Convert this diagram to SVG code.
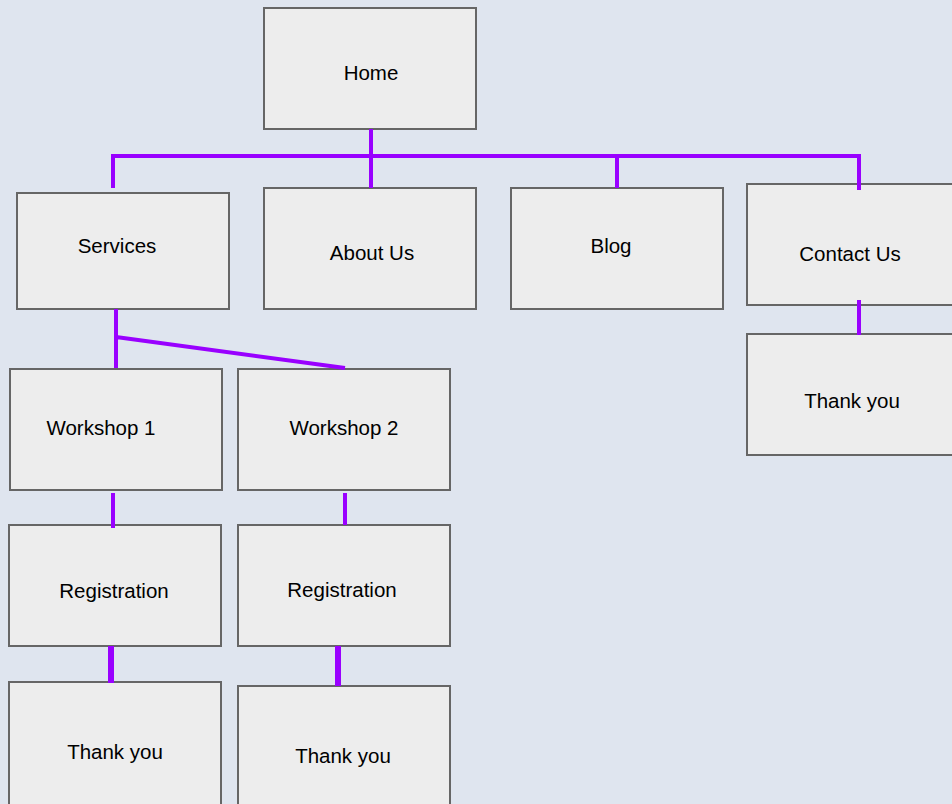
<svg xmlns="http://www.w3.org/2000/svg" width="952" height="804" viewBox="0 0 952 804">
<style>
.bx{fill:#ededed;stroke:#666666;stroke-width:2}
.t{font-family:"Liberation Sans",Arial,sans-serif;font-size:20.5px;fill:#000;text-anchor:middle}
.c{stroke:#9900ff;stroke-width:4;fill:none;stroke-linecap:butt}
.c6{stroke:#9900ff;stroke-width:6;fill:none}
</style>
<rect width="952" height="804" fill="#dfe5ef"/>
<g id="home"><rect class="bx" x="264" y="8" width="212" height="121"/><text class="t" x="371" y="80">Home</text></g>
<g id="services"><rect class="bx" x="17" y="193" width="212" height="116"/><text class="t" x="117" y="253">Services</text></g>
<g id="about"><rect class="bx" x="264" y="188" width="212" height="121"/><text class="t" x="372" y="260">About Us</text></g>
<g id="blog"><rect class="bx" x="511" y="188" width="212" height="121"/><text class="t" x="611" y="253">Blog</text></g>
<g id="contact"><rect class="bx" x="747" y="184" width="220" height="121"/><text class="t" x="850" y="261">Contact Us</text></g>
<g id="thank-contact"><rect class="bx" x="747" y="334" width="220" height="121"/><text class="t" x="852" y="408">Thank you</text></g>
<g id="workshop1"><rect class="bx" x="10" y="369" width="212" height="121"/><text class="t" x="101" y="435">Workshop 1</text></g>
<g id="workshop2"><rect class="bx" x="238" y="369" width="212" height="121"/><text class="t" x="344" y="435">Workshop 2</text></g>
<g id="registration1"><rect class="bx" x="9" y="525" width="212" height="121"/><text class="t" x="114" y="598">Registration</text></g>
<g id="registration2"><rect class="bx" x="238" y="525" width="212" height="121"/><text class="t" x="342" y="597">Registration</text></g>
<g id="thank1"><rect class="bx" x="9" y="682" width="212" height="130"/><text class="t" x="115" y="759">Thank you</text></g>
<g id="thank2"><rect class="bx" x="238" y="686" width="212" height="130"/><text class="t" x="343" y="763">Thank you</text></g>
<g id="connectors">
<path class="c" d="M371 129V188M113 188V156H859V190M617 156V188"/>
<path class="c" d="M859 300V335"/>
<path class="c" d="M116 309V368M116 337L345 368"/>
<path class="c" d="M113 493V528M345 493V525"/>
<path class="c6" d="M111 646V683M338 646V686"/>
</g>
</svg>
